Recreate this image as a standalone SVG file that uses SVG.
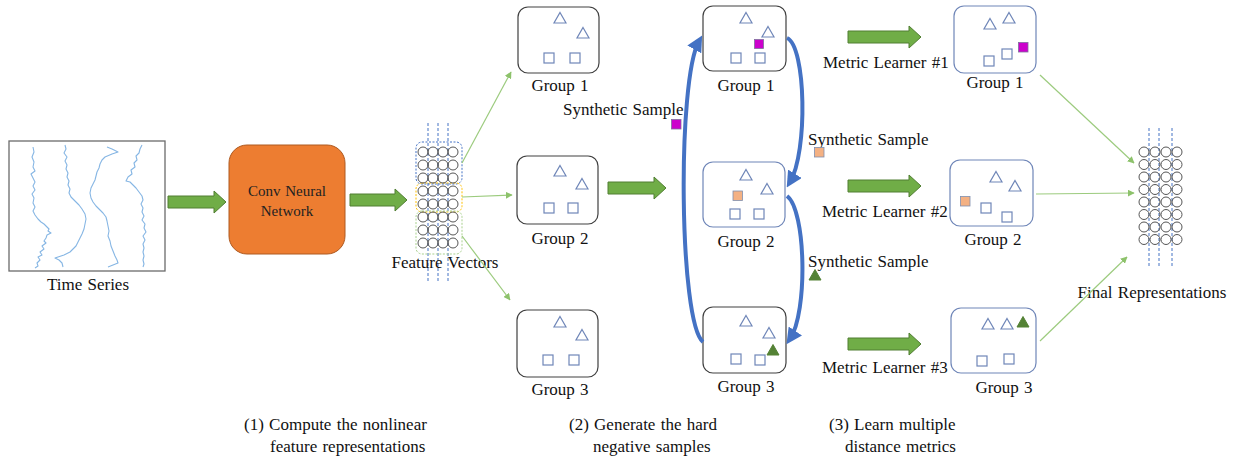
<svg xmlns="http://www.w3.org/2000/svg" width="1238" height="462" viewBox="0 0 1238 462" font-family="'Liberation Serif', 'Times New Roman', serif">
<style>
text{font-family:'Liberation Serif','DejaVu Serif',serif;font-size:17px;fill:#111;word-spacing:1px;}
.grp{fill:#fff;stroke:#404040;stroke-width:1.2;}
.grpb{fill:#fff;stroke:#6f86b8;stroke-width:1.2;}
.sh{fill:none;stroke:#6f86b8;stroke-width:1.2;}
.blk{fill:#70AD47;stroke:#507E32;stroke-width:1;}
.thin{fill:none;stroke:#9ccb7e;stroke-width:1.2;}
.blue{fill:none;stroke:#4472C4;stroke-width:4;}
.c{fill:none;stroke:#555;stroke-width:1;}
.dash{stroke:#4472C4;stroke-width:1;stroke-dasharray:3,2;fill:none;}
.ts{fill:none;stroke:#86b6e4;stroke-width:1.1;stroke-linejoin:round;}
</style>
<defs>
<path id="tri" d="M0,-5.5 L6,5 L-6,5 Z"/>
<rect id="sq" x="-5" y="-5" width="10" height="10"/>
<marker id="ag" viewBox="0 0 10 10" refX="9" refY="5" markerWidth="7" markerHeight="7" orient="auto" markerUnits="userSpaceOnUse"><path d="M0,0 L10,5 L0,10 Z" fill="#8dc26b"/></marker>
<marker id="ab" viewBox="0 0 10 10" refX="6" refY="5" markerWidth="4" markerHeight="4" orient="auto"><path d="M0,0 L10,5 L0,10 Z" fill="#4472C4"/></marker>
</defs>

<!-- Time series -->
<g id="timeseries">
<rect x="9" y="141" width="156" height="130" fill="#fff" stroke="#6b6b6b" stroke-width="1.3"/>
<polyline class="ts" points="33,147 34,152 32,157 34,162 33,167 35,171 31,174 33,178 35,182 33,186 35,190 32,194 34,198 33,203 35,207 33,211 35,215 38,219 41,222 44,224 47,227 49,229 48,231 51,233 47,235 46,238 44,241 46,243 42,246 44,249 40,252 42,255 38,257 40,260 37,263 38,266 35,268"/>
<polyline class="ts" points="65,145 66,149 64,153 67,157 65,161 67,165 66,169 68,173 67,177 69,181 68,185 70,189 69,193 71,197 75,201 79,205 82,209 85,214 86,219 85,224 84,229 82,234 80,238 78,242 76,246 73,249 70,252 64,255 58,257 55,258 59,260 62,263 63,267"/>
<polyline class="ts" points="107,147 112,149 118,152 112,154 105,157 102,160 100,164 99,168 97,172 96,176 95,180 93,184 91,188 90,193 91,198 93,202 96,206 100,210 103,213 106,217 107,221 108,226 109,231 108,236 110,241 111,246 113,251 115,256 117,260 118,263 113,265 108,267"/>
<polyline class="ts" points="142,145 140,149 139,153 136,156 137,160 134,163 135,167 131,170 132,174 128,177 126,181 130,182 133,185 136,188 139,192 142,196 143,200 141,204 143,208 142,212 144,216 142,220 145,224 144,228 146,232 143,236 145,240 143,244 144,248 143,252 144,256 143,260 144,264 143,267"/>
<text x="88" y="290" text-anchor="middle">Time Series</text>
</g>

<!-- CNN -->
<g id="cnn">
<rect x="229" y="145" width="116" height="109" rx="18" fill="#ED7D31" stroke="#AE5A21" stroke-width="1"/>
<text x="287" y="196" text-anchor="middle" style="font-size:15px;fill:#222">Conv Neural</text>
<text x="287" y="216" text-anchor="middle" style="font-size:15px;fill:#222">Network</text>
</g>

<!-- Feature vectors -->
<g id="features">
<line class="dash" x1="428" y1="123" x2="428" y2="283"/>
<line class="dash" x1="438" y1="123" x2="438" y2="283"/>
<line class="dash" x1="448" y1="123" x2="448" y2="283"/>
<rect x="416" y="142" width="46" height="42" rx="6" fill="none" stroke="#4472C4" stroke-width="1" stroke-dasharray="2,1.5"/>
<rect x="416" y="183" width="46" height="29" rx="6" fill="none" stroke="#FFC000" stroke-width="1" stroke-dasharray="2,1.5"/>
<rect x="416" y="211" width="46" height="43" rx="6" fill="none" stroke="#A9D18E" stroke-width="1" stroke-dasharray="2,1.5"/>
<g class="c">
<circle cx="423" cy="152" r="5"/><circle cx="433" cy="152" r="5"/><circle cx="443" cy="152" r="5"/><circle cx="453" cy="152" r="5"/>
<circle cx="423" cy="165" r="5"/><circle cx="433" cy="165" r="5"/><circle cx="443" cy="165" r="5"/><circle cx="453" cy="165" r="5"/>
<circle cx="423" cy="178" r="5"/><circle cx="433" cy="178" r="5"/><circle cx="443" cy="178" r="5"/><circle cx="453" cy="178" r="5"/>
<circle cx="423" cy="191" r="5"/><circle cx="433" cy="191" r="5"/><circle cx="443" cy="191" r="5"/><circle cx="453" cy="191" r="5"/>
<circle cx="423" cy="204" r="5"/><circle cx="433" cy="204" r="5"/><circle cx="443" cy="204" r="5"/><circle cx="453" cy="204" r="5"/>
<circle cx="423" cy="217" r="5"/><circle cx="433" cy="217" r="5"/><circle cx="443" cy="217" r="5"/><circle cx="453" cy="217" r="5"/>
<circle cx="423" cy="230" r="5"/><circle cx="433" cy="230" r="5"/><circle cx="443" cy="230" r="5"/><circle cx="453" cy="230" r="5"/>
<circle cx="423" cy="243" r="5"/><circle cx="433" cy="243" r="5"/><circle cx="443" cy="243" r="5"/><circle cx="453" cy="243" r="5"/>
</g>
<text x="445" y="268" text-anchor="middle">Feature Vectors</text>
</g>

<!-- Column 1 groups -->
<g id="c1g1">
<rect class="grp" x="518" y="7" width="81" height="66" rx="10"/>
<g class="sh"><use href="#tri" x="560" y="18"/><use href="#tri" x="583" y="33"/><use href="#sq" x="549" y="58"/><use href="#sq" x="575" y="58"/></g>
<text x="560" y="91" text-anchor="middle">Group 1</text>
</g>
<g id="c1g2">
<rect class="grp" x="517" y="156" width="81" height="68" rx="10"/>
<g class="sh"><use href="#tri" x="560" y="171"/><use href="#tri" x="582" y="184"/><use href="#sq" x="549" y="208"/><use href="#sq" x="573" y="208"/></g>
<text x="560" y="244" text-anchor="middle">Group 2</text>
</g>
<g id="c1g3">
<rect class="grp" x="517" y="310" width="81" height="67" rx="10"/>
<g class="sh"><use href="#tri" x="560" y="322"/><use href="#tri" x="582" y="335"/><use href="#sq" x="548" y="360"/><use href="#sq" x="574" y="360"/></g>
<text x="560" y="395" text-anchor="middle">Group 3</text>
</g>

<!-- Column 2 groups -->
<g id="c2g1">
<rect class="grp" x="703" y="6" width="83" height="65" rx="10"/>
<g class="sh"><use href="#tri" x="746" y="18"/><use href="#tri" x="768" y="32"/><use href="#sq" x="736" y="58"/><use href="#sq" x="760" y="58"/></g>
<rect x="754.5" y="39.5" width="9" height="9" fill="#CC00CC" stroke="#7f6f9f" stroke-width="0.8"/>
<text x="746" y="91" text-anchor="middle">Group 1</text>
</g>
<g id="c2g2">
<rect class="grpb" x="703" y="162" width="82" height="65" rx="10"/>
<g class="sh"><use href="#tri" x="746" y="175"/><use href="#tri" x="767" y="189"/><use href="#sq" x="735" y="214"/><use href="#sq" x="759" y="214"/></g>
<rect x="733" y="191" width="9.5" height="9.5" fill="#F4B183" stroke="#7f8fb0" stroke-width="0.8"/>
<text x="746" y="247" text-anchor="middle">Group 2</text>
</g>
<g id="c2g3">
<rect class="grp" x="703" y="307" width="83" height="66" rx="10"/>
<g class="sh"><use href="#tri" x="746" y="321"/><use href="#tri" x="769" y="333"/><use href="#sq" x="736" y="359"/><use href="#sq" x="760" y="360"/></g>
<use href="#tri" x="773" y="350" fill="#548235" stroke="#548235"/>
<text x="746" y="392" text-anchor="middle">Group 3</text>
</g>

<!-- Column 3 groups -->
<g id="c3g1">
<rect class="grpb" x="954" y="6" width="82" height="67" rx="10"/>
<g class="sh"><use href="#tri" x="990" y="24"/><use href="#tri" x="1009" y="18"/><use href="#sq" x="989" y="61"/><use href="#sq" x="1007" y="54"/></g>
<rect x="1018.5" y="42.5" width="9.5" height="9.5" fill="#CC00CC" stroke="#7f6f9f" stroke-width="0.8"/>
<text x="995" y="88" text-anchor="middle">Group 1</text>
</g>
<g id="c3g2">
<rect class="grpb" x="950" y="160" width="83" height="66" rx="10"/>
<g class="sh"><use href="#tri" x="996" y="177"/><use href="#tri" x="1015" y="186"/><use href="#sq" x="986" y="208"/><use href="#sq" x="1007" y="217"/></g>
<rect x="960.5" y="196.5" width="9.5" height="9.5" fill="#F4B183" stroke="#7f8fb0" stroke-width="0.8"/>
<text x="993" y="245" text-anchor="middle">Group 2</text>
</g>
<g id="c3g3">
<rect class="grpb" x="951" y="308" width="85" height="65" rx="10"/>
<g class="sh"><use href="#tri" x="988" y="324"/><use href="#tri" x="1007" y="324"/><use href="#sq" x="982" y="361"/><use href="#sq" x="1009" y="359"/></g>
<use href="#tri" x="1023" y="322" fill="#548235" stroke="#548235"/>
<text x="1004" y="393" text-anchor="middle">Group 3</text>
</g>

<!-- Final representations -->
<g id="final">
<line class="dash" x1="1149" y1="128" x2="1149" y2="268"/>
<line class="dash" x1="1159" y1="128" x2="1159" y2="268"/>
<line class="dash" x1="1172" y1="128" x2="1172" y2="268"/>
<g class="c">
<circle cx="1144" cy="152" r="5"/><circle cx="1155" cy="152" r="5"/><circle cx="1166" cy="152" r="5"/><circle cx="1177" cy="152" r="5"/>
<circle cx="1144" cy="164.5" r="5"/><circle cx="1155" cy="164.5" r="5"/><circle cx="1166" cy="164.5" r="5"/><circle cx="1177" cy="164.5" r="5"/>
<circle cx="1144" cy="177" r="5"/><circle cx="1155" cy="177" r="5"/><circle cx="1166" cy="177" r="5"/><circle cx="1177" cy="177" r="5"/>
<circle cx="1144" cy="189.5" r="5"/><circle cx="1155" cy="189.5" r="5"/><circle cx="1166" cy="189.5" r="5"/><circle cx="1177" cy="189.5" r="5"/>
<circle cx="1144" cy="202" r="5"/><circle cx="1155" cy="202" r="5"/><circle cx="1166" cy="202" r="5"/><circle cx="1177" cy="202" r="5"/>
<circle cx="1144" cy="214.5" r="5"/><circle cx="1155" cy="214.5" r="5"/><circle cx="1166" cy="214.5" r="5"/><circle cx="1177" cy="214.5" r="5"/>
<circle cx="1144" cy="227" r="5"/><circle cx="1155" cy="227" r="5"/><circle cx="1166" cy="227" r="5"/><circle cx="1177" cy="227" r="5"/>
<circle cx="1144" cy="239.5" r="5"/><circle cx="1155" cy="239.5" r="5"/><circle cx="1166" cy="239.5" r="5"/><circle cx="1177" cy="239.5" r="5"/>
</g>
<text x="1152" y="298" text-anchor="middle">Final Representations</text>
</g>

<!-- Labels -->
<g id="labels">
<text x="563" y="115">Synthetic Sample</text>
<rect x="671.5" y="119.5" width="9.5" height="9.5" fill="#CC00CC" stroke="#7f6f9f" stroke-width="0.8"/>
<text x="808" y="145">Synthetic Sample</text>
<rect x="814.5" y="147.5" width="9.5" height="9.5" fill="#F4B183" stroke="#7f8fb0" stroke-width="0.8"/>
<text x="808" y="267">Synthetic Sample</text>
<use href="#tri" x="815" y="275" fill="#548235" stroke="#548235"/>
<text x="823" y="68">Metric Learner #1</text>
<text x="822" y="217">Metric Learner #2</text>
<text x="822" y="373">Metric Learner #3</text>
<text x="244" y="430">(1) Compute the nonlinear</text>
<text x="270" y="452">feature representations</text>
<text x="569" y="430">(2) Generate the hard</text>
<text x="593" y="452">negative samples</text>
<text x="829" y="430">(3) Learn multiple</text>
<text x="845" y="452">distance metrics</text>
</g>

<!-- Connectors -->
<g id="connectors">
<polygon class="blk" points="168,196 214,196 214,191 226,202 214,213 214,208 168,208"/>
<polygon class="blk" points="350,194 395,194 395,189 407,200 395,211 395,206 350,206"/>
<polygon class="blk" points="608,182 654,182 654,177 666,188 654,199 654,194 608,194"/>
<polygon class="blk" points="848,31 909,31 909,26 921,37 909,48 909,43 848,43"/>
<polygon class="blk" points="848,180 909,180 909,175 921,186 909,197 909,192 848,192"/>
<polygon class="blk" points="848,338 909,338 909,333 921,344 909,355 909,350 848,350"/>
<line class="thin" x1="462" y1="163" x2="511" y2="72" marker-end="url(#ag)"/>
<line class="thin" x1="462" y1="197" x2="512" y2="195" marker-end="url(#ag)"/>
<line class="thin" x1="462" y1="236" x2="510" y2="300" marker-end="url(#ag)"/>
<line class="thin" x1="1040" y1="75" x2="1134" y2="163" marker-end="url(#ag)"/>
<line class="thin" x1="1036" y1="194" x2="1134" y2="193" marker-end="url(#ag)"/>
<line class="thin" x1="1040" y1="341" x2="1127" y2="257" marker-end="url(#ag)"/>
<path class="blue" d="M703,342 C679,322 677,80 699,41" marker-end="url(#ab)"/>
<path class="blue" d="M787,38 C806,46 808,152 790,182" marker-end="url(#ab)"/>
<path class="blue" d="M787,196 C806,210 808,312 790,339" marker-end="url(#ab)"/>
</g>
</svg>
